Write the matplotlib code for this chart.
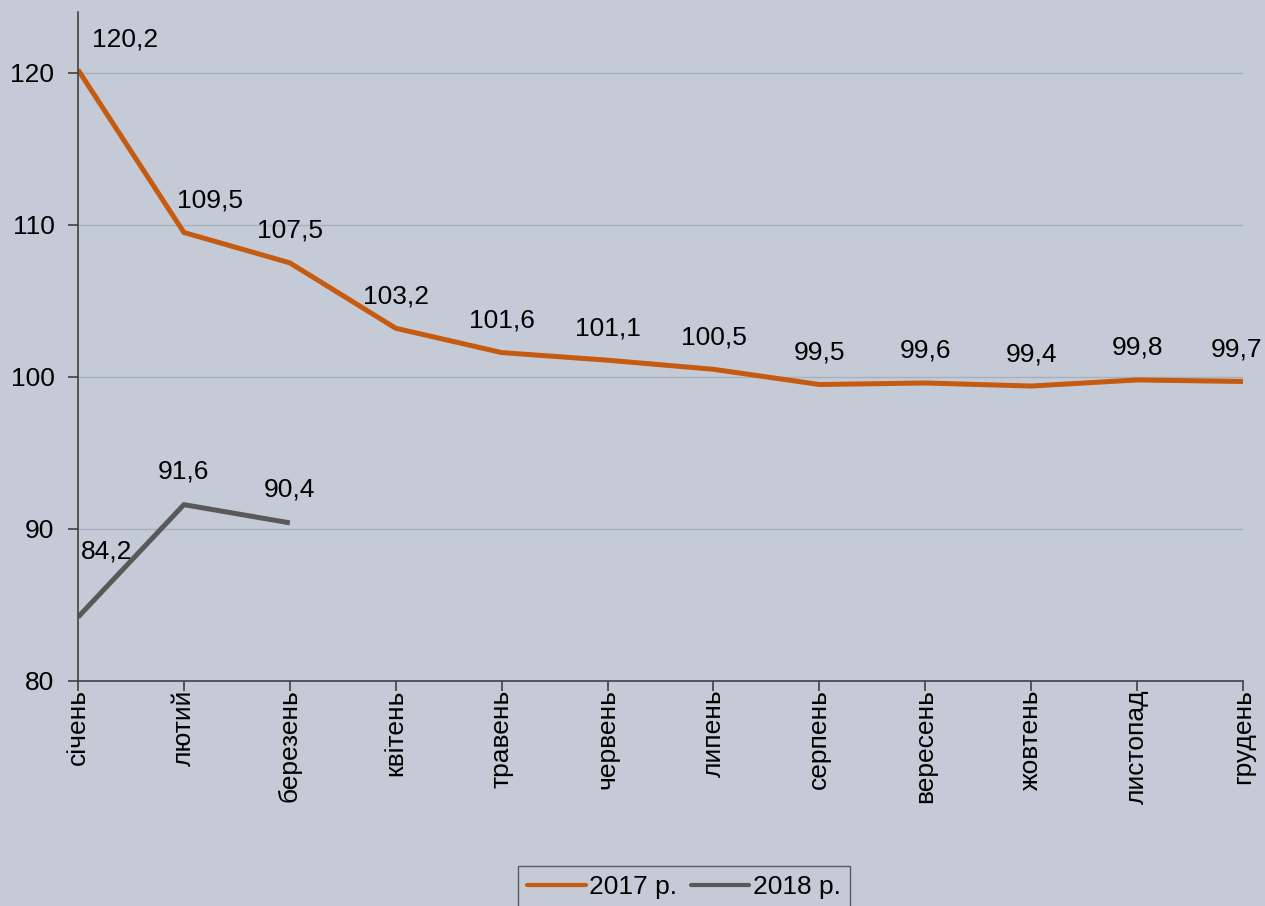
import matplotlib
matplotlib.use("Agg")
import matplotlib.pyplot as plt

months = ["січень", "лютий", "березень", "квітень", "травень", "червень",
          "липень", "серпень", "вересень", "жовтень", "листопад", "грудень"]
values_2017 = [120.2, 109.5, 107.5, 103.2, 101.6, 101.1, 100.5, 99.5, 99.6, 99.4, 99.8, 99.7]
values_2018 = [84.2, 91.6, 90.4]
y_ticks = [80, 90, 100, 110, 120]

bg = "#c4cbd6"
orange = "#c55a11"
grey = "#595959"
fs = 19

plt.rcParams["font.family"] = ["Liberation Sans", "DejaVu Sans"]
plt.rcParams["font.size"] = fs

fig = plt.figure(figsize=(12.65, 9.06), dpi=100, facecolor=bg)
ax = fig.add_axes([78 / 1265, 1 - 681 / 906, (1243 - 78) / 1265, (681 - 12) / 906])
ax.set_facecolor(bg)

x17 = list(range(len(values_2017)))
x18 = list(range(len(values_2018)))
ax.plot(x17, values_2017, color=orange, lw=3.6, label="2017 р.", solid_capstyle="butt")
ax.plot(x18, values_2018, color=grey, lw=3.6, label="2018 р.", solid_capstyle="butt")

def label(x, y, dx=0, dy=33):
    ax.annotate(f"{y:.1f}".replace(".", ","), (x, y), xytext=(dx, dy),
                textcoords="offset pixels", ha="center", va="center",
                fontsize=fs, color="black", annotation_clip=False)

for i, v in enumerate(values_2017):
    dx = 0
    if i == 0:
        dx = 47
    elif i == 1:
        dx = 26
    elif i == len(values_2017) - 1:
        dx = -6
    label(i, v, dx, 30 if i == 0 else 32)

for i, v in enumerate(values_2018):
    if i == 0:
        label(i, v, 29, 66)
    else:
        label(i, v, 0, 33)

ax.set_xlim(0, 11)
ax.set_ylim(80, 124)
ax.set_yticks(y_ticks)
ax.set_xticks(x17)
ax.set_xticklabels(months, rotation=90, va="top")
ax.grid(axis="y", color="#a7b0be", lw=1)
ax.set_axisbelow(True)

for s in ["top", "right"]:
    ax.spines[s].set_visible(False)
for s in ["left", "bottom"]:
    ax.spines[s].set_color("#404040")
    ax.spines[s].set_linewidth(1.2)
ax.tick_params(axis="both", direction="out", length=7, color="#404040", width=1.2)
ax.tick_params(axis="x", pad=-1)
ax.tick_params(axis="y", pad=10)

leg = fig.legend(loc="upper center", bbox_to_anchor=(684 / 1265, 1 - 866 / 906),
                 ncol=2, frameon=True, fancybox=False, edgecolor="#404040",
                 facecolor=bg, handlelength=2.2, handletextpad=0.15,
                 columnspacing=0.5, borderpad=0.35, borderaxespad=0, fontsize=fs)
leg.get_frame().set_linewidth(1.0)
for line in leg.get_lines():
    line.set_linewidth(3.0)
    line.set_solid_capstyle("round")

fig.savefig("out.png", dpi=100, facecolor=bg)
